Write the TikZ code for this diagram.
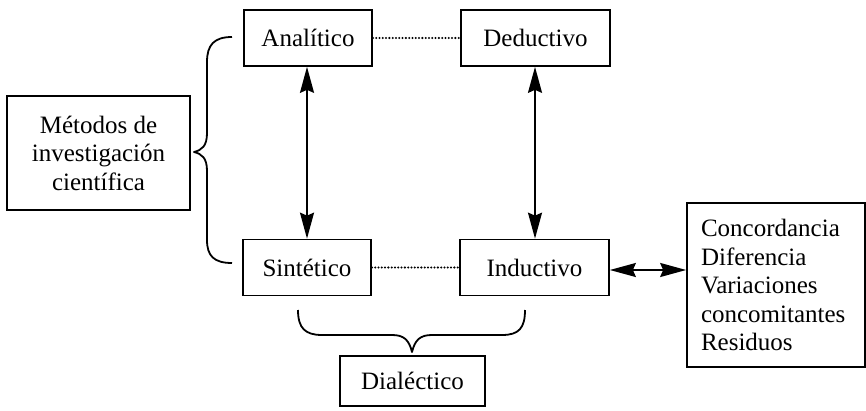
\documentclass[tikz,border=0pt]{standalone}
\usepackage{fontspec}
\setmainfont{Liberation Serif}
\usetikzlibrary{arrows.meta}
\begin{document}
\begin{tikzpicture}[x=1pt,y=-1pt,
  every node/.style={font=\fontsize{25}{28.5}\selectfont},
  box/.style={draw,line width=1.7pt,inner sep=0pt,align=center},
  link/.style={line width=1.8pt,{Stealth[length=26pt,width=14pt,inset=3pt]}-{Stealth[length=26pt,width=14pt,inset=3pt]}},
  dots/.style={line width=2.3pt,line cap=round,dash pattern=on 0pt off 3.3pt},
  brace/.style={line width=1.8pt,line join=round}]
\useasboundingbox (0,0) rectangle (866,411);
\node[box,minimum width=183pt,minimum height=114pt] (met) at (98.5,153) {Métodos de\\investigación\\científica};
\node[box,minimum width=128pt,minimum height=56pt] (ana) at (308,38) {Analítico};
\node[box,minimum width=149pt,minimum height=56pt] (ded) at (535.5,38) {Deductivo};
\node[box,minimum width=128pt,minimum height=56pt] (sin) at (307,267.5) {Sintético};
\node[box,minimum width=149pt,minimum height=56pt] (ind) at (534.5,267.5) {Inductivo};
\node[box,minimum width=178pt,minimum height=164pt,inner xsep=14pt,text width=150pt,align=left] (res) at (776,285)
  {Concordancia\\Diferencia\\Variaciones\\concomitantes\\Residuos};
\node[box,minimum width=145pt,minimum height=50pt] (dia) at (412.5,381) {Dialéctico};
% connectors
\draw[link] (ana.south -| 307,0) -- (sin.north -| 307,0);
\draw[link] (ded.south -| 535,0) -- (ind.north -| 535,0);
\draw[link] (ind.east |- 0,270) -- (res.west |- 0,270);
\draw[dots] (ana.east) -- (ded.west);
\draw[dots] (sin.east) -- (ind.west);
% left brace
\draw[brace] (232,37) .. controls (214,37) and (207,45) .. (207,62)
  -- (207,133) .. controls (207,146) and (202,150) .. (194,152)
  .. controls (202,154) and (207,158) .. (207,171)
  -- (207,240) .. controls (207,256) and (214,263) .. (232,263);
% bottom brace
\draw[brace] (298,310) .. controls (298,328) and (305,335) .. (322,335)
  -- (392,335) .. controls (404,335) and (409,340) .. (412,352)
  .. controls (415,340) and (420,335) .. (432,335)
  -- (502,335) .. controls (519,335) and (525,328) .. (525,310);
\end{tikzpicture}
\end{document}
